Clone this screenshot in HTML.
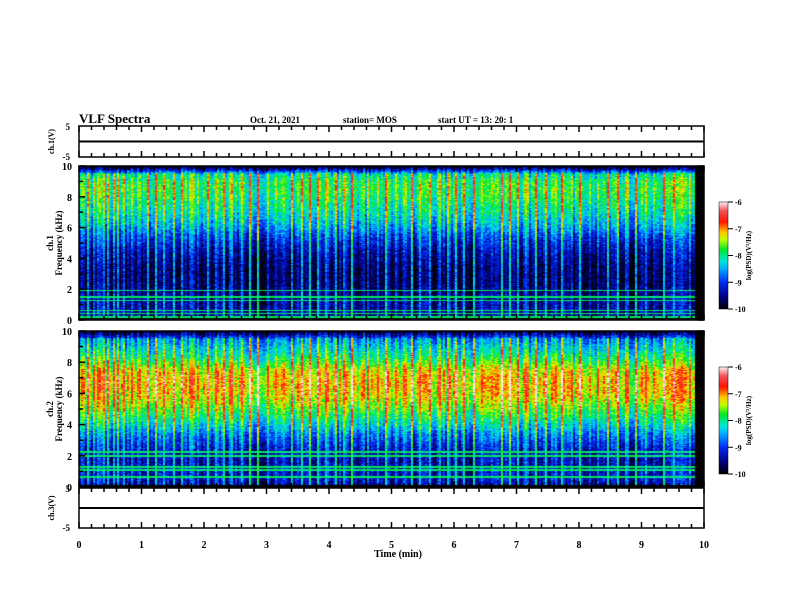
<!DOCTYPE html>
<html><head><meta charset="utf-8">
<style>
html,body{margin:0;padding:0;background:#fff;}
#wrap{position:relative;width:792px;height:612px;overflow:hidden;font-family:"Liberation Serif",serif;}
canvas{position:absolute;}
svg{position:absolute;left:0;top:0;}
svg text{font-family:"Liberation Serif",serif;font-weight:bold;fill:#000;}
</style></head>
<body>
<div id="wrap">
<canvas id="spec1" width="625" height="154" style="left:79px;top:166px"></canvas>
<canvas id="spec2" width="625" height="156" style="left:79px;top:331px"></canvas>
<canvas id="cb1" width="9" height="107" style="left:719px;top:202px"></canvas>
<canvas id="cb2" width="9" height="107" style="left:719px;top:367px"></canvas>
<svg id="ax" width="792" height="612"></svg>
</div>
<script>
// ---- data ----
const timeTicks = [0,1,2,3,4,5,6,7,8,9,10];
const freqTicks = [0,2,4,6,8,10];
const cbTicks = [-6,-7,-8,-9,-10];
// mean level (0..1 on colormap) per frequency (kHz 0..10 by 0.5)
const profile1 = [0.08,0.14,0.14,0.12,0.1,0.08,0.08,0.09,0.12,0.15,0.2,0.26,0.34,0.4,0.45,0.48,0.52,0.54,0.53,0.45,0.0];
const profile2 = [0.12,0.18,0.18,0.16,0.16,0.2,0.26,0.33,0.42,0.5,0.57,0.64,0.68,0.7,0.7,0.66,0.56,0.47,0.4,0.33,0.05];
const lines1 = [1.95,1.5,1.3,0.65,0.45,0.25];
const lines2 = [2.3,2.0,1.3,1.1,0.7];
const bursts = [0.05,0.12,0.22,0.3,0.38,0.45,0.55,0.62,0.7,0.85,0.95,1.08,1.22,1.35,1.5,1.62,1.78,1.9,2.05,2.18,2.3,2.42,2.6,2.72,2.85,3.0,3.12,3.25,3.4,3.55,3.68,3.8,3.95,4.1,4.22,4.35,4.5,4.62,4.78,4.9,5.05,5.2,5.32,5.45,5.6,5.75,5.9,6.02,6.15,6.3,6.45,6.6,6.75,6.88,7.0,7.15,7.3,7.45,7.6,7.72,7.88,8.0,8.15,8.3,8.45,8.6,8.75,8.9,9.05,9.2,9.35,9.5,9.62,9.75];
const dataEnd = 9.85;

// ---- scales ----
const X0=79,X1=704;
const xs = t => X0 + (t/10)*(X1-X0);
const cmapStops=[[0,[0,0,0]],[0.12,[0,0,130]],[0.25,[0,40,240]],[0.38,[0,170,255]],[0.45,[0,230,220]],[0.56,[0,230,40]],[0.65,[190,255,0]],[0.72,[255,200,0]],[0.82,[255,20,0]],[0.92,[240,80,90]],[1,[255,235,235]]];
function cmap(v){v=Math.max(0,Math.min(1,v));for(let i=1;i<cmapStops.length;i++){if(v<=cmapStops[i][0]){const a=cmapStops[i-1],b=cmapStops[i],f=(v-a[0])/(b[0]-a[0]);return a[1].map((c,k)=>Math.round(c+(b[1][k]-c)*f));}}return cmapStops[cmapStops.length-1][1];}
function tex(i,j){let h=(i*374761393+j*668265263)^0x5bf03635;h=(h^(h>>>13))*1274126177;h=h^(h>>>16);return ((h>>>0)%1000)/1000;}
function drawSpec(id,prof,lines,H){
  const c=document.getElementById(id),g=c.getContext('2d'),W=c.width;
  const img=g.createImageData(W,H);
  const colW=2;
  for(let x=0;x<W;x+=colW){
    const t=x/W*10;
    let b=0;for(const bt of bursts){const d=Math.abs(xs(bt)-X0-x);if(d<1.5)b=Math.max(b,0.3*(1-d/1.5));}
    const colN=tex(x,7)*0.2-0.1;
    for(let y=0;y<H;y++){
      const f=10*(1-y/H);
      const fi=f/0.5,i0=Math.floor(Math.min(fi,prof.length-2)),fr=fi-i0;
      let v=prof[i0]*(1-fr)+prof[i0+1]*fr;
      v+=colN+ (tex(x,y)-0.5)*0.18 + b*(f<9.6?1:0);
      for(const lf of lines){if(Math.abs(f-lf)<0.06)v=Math.max(v,0.48+tex(x,3)*0.08);}
      if(f<0.15||t>dataEnd)v=0;
      const col=cmap(v);
      for(let k=0;k<colW&&x+k<W;k++){const p=(y*W+x+k)*4;img.data[p]=col[0];img.data[p+1]=col[1];img.data[p+2]=col[2];img.data[p+3]=255;}
    }
  }
  g.putImageData(img,0,0);
}
drawSpec('spec1',profile1,lines1,154);
drawSpec('spec2',profile2,lines2,156);
function drawCb(id){const c=document.getElementById(id),g=c.getContext('2d');for(let y=0;y<c.height;y++){const col=cmap(1-y/c.height);g.fillStyle=`rgb(${col})`;g.fillRect(0,y,c.width,1);}}
drawCb('cb1');drawCb('cb2');

// ---- axes ----
const svg=document.getElementById('ax');const NS='http://www.w3.org/2000/svg';
function el(tag,attrs,txt){const e=document.createElementNS(NS,tag);for(const k in attrs)e.setAttribute(k,attrs[k]);if(txt!==undefined)e.textContent=txt;svg.appendChild(e);return e;}
function panel(name,y0,y1){
  const r=el('rect',{x:X0,y:y0,width:X1-X0,height:y1-y0,fill:'none',stroke:'#000','stroke-width':1.5});
  
  
  for(let t=0;t<=10.001;t+=0.2){
    const x=xs(t),major=Math.abs(t-Math.round(t))<0.01,len=major?6:4;
    el('line',{x1:x,y1:y0,x2:x,y2:y0+len,stroke:'#000','stroke-width':1.5});
    el('line',{x1:x,y1:y1,x2:x,y2:y1-len,stroke:'#000','stroke-width':1.5});
  }
}
function vPanel(name,y0,y1,label){
  panel(name,y0,y1);
  const ym=(y0+y1)/2;
  el('line',{x1:X0,y1:ym,x2:X1,y2:ym,stroke:'#000','stroke-width':2});
  el('text',{x:70,y:y0+4,'font-size':9,'text-anchor':'end'},'5');
  el('text',{x:70,y:y1+3,'font-size':9,'text-anchor':'end'},'-5');
  const t=el('text',{x:0,y:0,'font-size':8,'text-anchor':'middle',transform:`translate(54,${ym}) rotate(-90)`},label);
  
  
}
function specAxes(name,y0,y1,ch){
  panel(name,y0,y1);
  const ys=f=>y1-(f/10)*(y1-y0);
  for(const f of freqTicks){el('text',{x:72,y:ys(f)+4,'font-size':10,'text-anchor':'end'},String(f));}
  for(let f=0;f<=10;f++){const len=f%2===0?6:4;el('line',{x1:X0,y1:ys(f),x2:X0+len,y2:ys(f),stroke:'#000','stroke-width':1.5});el('line',{x1:X1,y1:ys(f),x2:X1-len,y2:ys(f),stroke:'#000','stroke-width':1.5});}
  const ym=(y0+y1)/2;
  const t=el('text',{x:0,y:0,'font-size':9,'text-anchor':'middle',transform:`translate(53,${ym}) rotate(-90)`},ch);
  
  
  const t2=el('text',{x:0,y:0,'font-size':9,'text-anchor':'middle',transform:`translate(62,${ym}) rotate(-90)`},'Frequency (kHz)');
  
  
}
function cbAxes(name,y0,y1){
  el('rect',{x:719,y:y0,width:9,height:y1-y0,fill:'none',stroke:'#000','stroke-width':0.5});
  cbTicks.forEach((v,i)=>{const y=y0+(y1-y0)*i/(cbTicks.length-1);el('line',{x1:728,y1:y,x2:733,y2:y,stroke:'#000'});el('text',{x:735,y:y+3,'font-size':8},String(v));});
  const t=el('text',{x:0,y:0,'font-size':7,'text-anchor':'middle',transform:`translate(751,${(y0+y1)/2}) rotate(-90)`},'log(PSD)(V²/Hz)');
  
  
}
vPanel('ch1-voltage-panel',126,157,'ch.1(V)');
specAxes('ch1-spectrogram-axes',166,320,'ch.1');
specAxes('ch2-spectrogram-axes',331,487,'ch.2');
vPanel('ch3-voltage-panel',488,528,'ch.3(V)');
cbAxes('colorbar-1',202,309);
cbAxes('colorbar-2',367,474);
for(const t of timeTicks){const e=el('text',{x:xs(t),y:548,'font-size':10,'text-anchor':'middle'},String(t));}
const xt=el('text',{x:398,y:557,'font-size':10,'text-anchor':'middle'},'Time  (min)');


const ti=el('text',{x:79,y:123,'font-size':13},'VLF Spectra');


const d=el('text',{x:250,y:123,'font-size':9},'Oct. 21, 2021');


const s=el('text',{x:343,y:123,'font-size':9},'station= MOS');


const u=el('text',{x:438,y:123,'font-size':9},'start  UT  =   13: 20: 1');


</script>
</body></html>
